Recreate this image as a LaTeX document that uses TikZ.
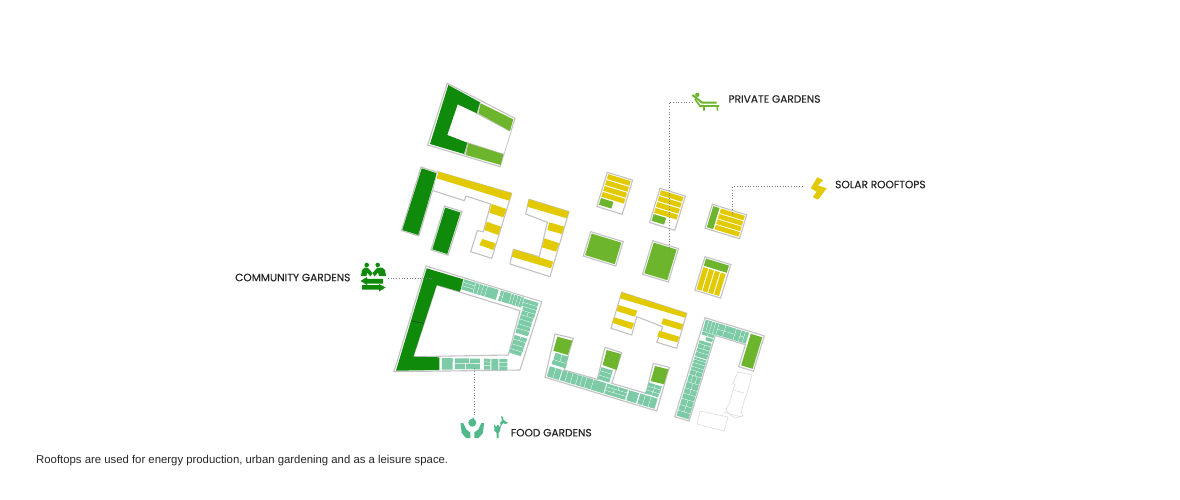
\documentclass[tikz,border=0pt]{standalone}
\usepackage{fontspec}
\setmainfont{Liberation Sans}
\newfontfamily\lblfont[FakeBold=0.3]{Poppins}
\usepackage{xcolor}
\usetikzlibrary{positioning}
\definecolor{darkgrn}{HTML}{0F8A0A}
\definecolor{lightgrn}{HTML}{6CB52D}
\definecolor{solaryel}{HTML}{E2C900}
\definecolor{foodtl}{HTML}{7CCBA6}
\definecolor{icontl}{HTML}{4FB98A}
\newcommand{\cells}[1]{\foreach \cx/\cy/\cw/\ch in {#1} \fill[food] (\cx,\cy) rectangle ++(\cw,\ch);}

\begin{document}
\begin{tikzpicture}[
  x=1pt, y=-1pt,
  outl/.style={draw=black!24, fill=white, line width=1.1pt, line join=miter},
  faint/.style={draw=black!12, line width=0.7pt},
  darkroof/.style={fill=darkgrn},
  lightroof/.style={fill=lightgrn},
  solar/.style={fill=solaryel},
  food/.style={fill=foodtl},
  leader/.style={draw=black!50, dotted, line width=0.7pt},
  lbl/.style={font=\lblfont\fontsize{10.6}{12}\selectfont, inner sep=0pt, text=black!85}
]
\fill[white] (0,0) rectangle (1180,500);
\useasboundingbox (0,0) rectangle (1180,500);

% top block
\draw[outl] (447.3,83.3) -- (515,118.3) -- (500,166.7) -- (427.7,145) -- cycle;
\fill[white] (457.7,104.3) -- (511,130) -- (504,153) -- (447.3,135) -- cycle;
\draw[black!24, line width=1.1pt] (476.7,113.3) -- (510,131) (467.3,142.7) -- (503.3,154.3)
  (480.4,102) -- (476.6,114) (468,142.7) -- (464.4,155);
\fill[darkroof] (448.3,85) -- (480,102.3) -- (476.7,113.3) -- (457.7,104.3) -- (447.3,135)
  -- (467.3,142.7) -- (464,154) -- (430,144) -- cycle;
\fill[lightroof] (480.7,103.3) -- (513.3,119.3) -- (510,131) -- (478.3,113.3) -- cycle;
\fill[lightroof] (468.3,143.3) -- (503.3,154.3) -- (500.7,165) -- (465.7,155) -- cycle;

% second row, left
\draw[outl] (421,167) -- (438,172.5) -- (418.8,236) -- (401.5,230.5) -- cycle;
\fill[darkroof] (421.7,168.3) -- (436.7,173.3) -- (418.3,235) -- (402.3,230) -- cycle;
\draw[outl] (444.5,206) -- (462,211.5) -- (448,255.2) -- (431,250) -- cycle;
\fill[darkroof] (445.2,207.6) -- (460.5,212.5) -- (447.3,254) -- (432.3,249.3) -- cycle;
\draw[outl] (437.3,171.7) -- (511.7,193.3) -- (491.7,258.3) -- (470.7,251.7) -- (477.3,230.7) -- (483.3,231.7)
  -- (490.7,204) -- (466,196) -- (464.3,200.7) -- (433.3,190.7);
\fill[solar] (438.3,171.7) -- (511.7,193.3) -- (509.3,200.7) -- (436.7,178.3) -- cycle;
\fill[solar] (491.7,204) -- (506.7,209) -- (503.3,217.3) -- (489.3,212.7) -- cycle;
\fill[solar] (486.7,221.7) -- (501,226.7) -- (498.3,235) -- (484.3,230) -- cycle;
\fill[solar] (482.3,239) -- (495.7,243.3) -- (493.3,250) -- (479.3,245) -- cycle;

\draw[outl] (529,199.3) -- (569,211.7) -- (550,276.7) -- (510,264) -- (513.3,249.3) -- (539.3,256.7)
  -- (547.3,222.3) -- (525.7,214) -- cycle;
\fill[solar] (529,199.3) -- (569,211.7) -- (566.7,218.3) -- (527.3,206.7) -- cycle;
\fill[solar] (549.3,222.3) -- (564.3,226.7) -- (561.7,234) -- (547.3,230) -- cycle;
\fill[solar] (544.3,238.3) -- (559.3,243.3) -- (556,251.7) -- (542,247.3) -- cycle;
\fill[solar] (514,249.3) -- (553.3,261.7) -- (551,268.3) -- (511.7,256.7) -- cycle;

% small roofs
\foreach \bx/\by in {607.3/172.3, 660/188.3} {
  \begin{scope}[shift={(\bx,\by)}, rotate=-17]
    \draw[outl] (0,0) rectangle (26.5,35.8);
    \foreach \k in {1.5,7.7,13.9,20.1} \fill[solar] (1.5,\k) rectangle (25,\k+5);
    \fill[lightroof] (1.5,26.5) rectangle (14.5,33.5);
  \end{scope}
}
\begin{scope}[shift={(712.3,204.3)}, rotate=-17]
  \draw[outl] (0,0) rectangle (36,25);
  \fill[lightroof] (1.5,1.5) rectangle (8,23.5);
  \foreach \k in {1.5,7.2,12.9,18.6} \fill[solar] (9.5,\k) rectangle (34.5,\k+4.7);
\end{scope}
\begin{scope}[shift={(590.7,231.7)}, rotate=-17]
  \draw[outl] (0,0) rectangle (34,25.5);
  \fill[lightroof] (1.5,1.5) rectangle (32.5,24);
\end{scope}
\begin{scope}[shift={(652.7,240.7)}, rotate=-17]
  \draw[outl] (0,0) rectangle (27,35);
  \fill[lightroof] (1.5,1.5) rectangle (25.5,33.5);
\end{scope}
\begin{scope}[shift={(705,256.7)}, rotate=-17]
  \draw[outl] (0,0) rectangle (27,35);
  \fill[lightroof] (1.5,1.5) rectangle (25.5,9);
  \foreach \k in {1.5,7.6,13.7,19.8} \fill[solar] (\k,10.5) rectangle (\k+5,33.5);
\end{scope}

% big courtyard block
\draw[outl] (426,266) -- (541.7,301.7) -- (520,370) -- (394,371.7) -- cycle;
\draw[outl] (436.7,285) -- (520,310.7) -- (508.3,355) -- (413.3,356.7) -- cycle;
\fill[darkroof] (426.7,268.3) -- (463.3,279.3) -- (460,291.7) -- (436.7,285) -- (413.3,356.7)
  -- (439.3,357.3) -- (439.3,370) -- (396,370.7) -- cycle;
\draw[black!70!darkgrn, line width=0.4pt] (411.7,321) -- (423.3,323.3);
\begin{scope}[shift={(426,266)}, rotate=-17]
  \fill[white] (103,1) rectangle (120,13);
  \cells{40.5/1.5/12/3, 40.5/5/12/3, 40.5/8.5/12/3.5, 53/1.5/3.5/10.5, 57/1.5/3.5/10.5, 61/1.5/3.5/10.5, 65/1.5/11.5/10.5,
    79/1.5/3/5, 79/7/3/5, 82.5/1.5/7.5/10.5, 90.5/1.5/2.5/10.5, 93.5/1.5/3/10.5, 97/1.5/3/10.5, 100.5/1.5/2.5/10.5,
    103.5/2.5/15/3.5, 103.5/6.5/15/3.5, 105/10.5/13.5/3.5, 105/14.5/6/4, 111.5/14.5/7/4, 105/19/13/4, 105/23.5/13/4.5,
    105/28.5/13/4, 105/33/13/4.5, 105/40/6/4, 111.5/40/6.5/4, 105/44.5/12.5/4.5, 105/49.5/12.5/4.5, 105/54.5/12/4}
\end{scope}
\begin{scope}[shift={(441,357.3)}, rotate=-0.8]
  \cells{1/0.8/10.8/11.4, 14/0.8/14/4.5, 29/0.8/10/4.5, 14/6/10/5.5, 25/6/14/5.5,
    43/0.8/6.5/3, 43/4.3/6.5/3.2, 43/8/6.5/3.7, 50.5/0.8/7/11, 58.5/0.8/8/3.3, 58.5/4.6/8/3.2, 58.5/8.3/8/3.5}
\end{scope}

% yellow block
\draw[outl] (621.7,292.3) -- (686.7,313.3) -- (676.7,348.3) -- (656.7,342.3) -- (662.7,326.7) -- (636.7,316.7)
  -- (631.7,335) -- (611,328.3) -- cycle;
\fill[solar] (621.7,292.3) -- (686.7,313.3) -- (685,317.7) -- (620,298.3) -- cycle;
\fill[solar] (618.3,305) -- (637.3,310.7) -- (635,316.7) -- (616.7,311) -- cycle;
\fill[solar] (614,317.3) -- (634,323.3) -- (631.7,329.3) -- (612.3,322.7) -- cycle;
\fill[solar] (663.3,318.3) -- (683.3,324.3) -- (681,330) -- (661.3,324) -- cycle;
\fill[solar] (659.3,330.7) -- (679.3,336.7) -- (677.3,342.3) -- (657.3,336.7) -- cycle;

% U block
\draw[outl] (555,334) -- (573.3,338.3) -- (564,370) -- (597.3,379.3) -- (605,347.3) -- (621.7,352.7) -- (611.7,383.3)
  -- (646,393.3) -- (653.3,363.3) -- (669.3,367.3) -- (656.7,411) -- (545,377.3) -- cycle;
\fill[lightroof] (557.3,336.7) -- (572.3,340.7) -- (567.7,355) -- (553.3,350.7) -- cycle;
\fill[lightroof] (606.7,350) -- (621,354) -- (616.7,370) -- (602.7,365) -- cycle;
\fill[lightroof] (655,366) -- (668.3,369.3) -- (664,384.3) -- (650.7,381) -- cycle;
\begin{scope}[shift={(545,377.3)}, rotate=-16.8]
  \cells{1.5/-12/6/10.5, 8/-12/6/10.5, 15/-12/5/10.5, 20.5/-12/5/10.5, 26/-12/5/10.5, 31.5/-12/4/10.5, 36/-12/4/10.5,
    40.5/-12/6.5/10.5, 47.5/-12/13/10.5, 61.5/-12/12/3, 74/-12/9/3, 61.5/-8.5/8/3.2, 70/-8.5/13/3.2, 61.5/-4.8/21.5/3.3,
    84.5/-12/10/10.5, 96/-12/5/10.5, 101.5/-12/5.5/10.5, 107.5/-12/6.5/10.5,
    3/-26.5/6.5/7, 10/-26.5/6.5/7, 2.5/-19/14.5/4.5,
    51/-26/12/3.5, 51/-22/12/4, 51/-17.5/12/4,
    101/-25/6.5/3.5, 108/-25/6.5/3.5, 101/-21/6.5/3.5, 108/-21/6.5/3.5, 100.5/-17/6.5/3.5, 107.5/-17/6.5/3.5}
\end{scope}

% L block with its faint neighbours
\begin{scope}[shift={(705,317.7)}, rotate=-17]
  \draw[outl] (0,0) -- (62,0) -- (62,37) -- (46.5,37) -- (46.5,14) -- (15,14) -- (15,103.5) -- (0,103.5) -- cycle;
  \fill[lightroof] (48.5,2) rectangle (60.5,35);
  \cells{1.5/1.5/3/12, 5/1.5/3/12, 8.5/1.5/3/12, 12/1.5/3/12, 15.5/1.5/6.5/5.5, 15.5/7.5/6.5/5.5, 22.5/1.5/10.5/5.5, 22.5/7.5/10.5/5.5,
    33.5/1.5/5/11.5, 39/1.5/3.5/5.5, 39/7.5/3.5/5.5, 43/1.5/3.5/11.5,
    1.5/14/6/3, 8/14/6/3, 7/18/7/3.5, 1.5/23/12.5/3, 1.5/26.5/6/4, 8/26.5/6/4, 1.5/31/12.5/3.5, 1.5/35/12.5/4.5,
    1.5/40.5/12.5/2, 1.5/43/12.5/3, 1.5/46.5/12.5/3.5, 1.5/50.5/12.5/3, 1.5/54/6/4.5, 8/54/6/4.5, 1.5/59/3.5/7, 5.5/59/4/7, 10/59/4/7,
    1.5/66.5/6/6, 8/66.5/6/6, 1.5/73/6/5, 8/73/6/5, 1.5/78.5/12.5/5, 1.5/84/6/6, 8/84/6/6, 1.5/90.5/6/5.5, 8/90.5/6/5.5, 1.5/96.5/12.5/5.5}
\end{scope}
\draw[faint] (738,372) -- (752,375) -- (747,393) -- (745,398) -- (741,412) -- (743,416) -- (735,418) -- (728,413) -- (726,409)
  -- (729,404) -- (733,390) -- (735,385) -- (733,383) -- cycle;
\draw[faint] (744,393) -- (733,390) (724,412) -- (741,417);
\draw[faint] (700,411) -- (728,417) -- (724,431) -- (697,424) -- cycle;

% labels, icons and leaders
\coordinate (communityicon) at (388,278);
\coordinate (communityroof) at (433,278);
\coordinate (privateicon) at (693,102.7);
\coordinate (privateroof) at (669,250);
\coordinate (solaricon) at (804,186.7);
\coordinate (solarroof) at (732.7,215);
\coordinate (foodicon) at (474,415);
\coordinate (foodroof) at (474,367);

\node[lbl, anchor=west] (privatelbl) at (728.3,99) {PRIVATE GARDENS};
\node[lbl, anchor=west] (solarlbl) at (835,184.5) {SOLAR ROOFTOPS};
\node[lbl, anchor=west] (communitylbl) at (235,277.5) {COMMUNITY GARDENS};
\node[lbl, anchor=west] (foodlbl) at (510.7,432.7) {FOOD GARDENS};
\node[inner sep=0pt, anchor=west, font=\fontsize{11.35}{13}\selectfont, text=black!85] (caption) at (36,461) {Rooftops are used for energy production, urban gardening and as a leisure space.};

\draw[leader] (privateroof) |- (privateicon);
\draw[leader] (solarroof) |- (solaricon);
\draw[leader] (communityicon) -- (communityroof);
\draw[leader] (foodicon) -- (foodroof);

% lounger
\fill[lightgrn] (697.3,94.8) circle (2.2);
\draw[lightgrn, line width=2pt] (692.3,95) -- (702.3,102.7) -- (716.7,102.7);
\draw[lightgrn, line width=1.6pt] (695,99.3) -- (700,106) -- (719,106) (704,106) -- (704,110.7) (717.3,106) -- (717.3,110.7);
% bolt
\fill[solaryel] (817.3,177.3) -- (823,180) -- (818,185.5) -- (826.7,188.3) -- (818.3,199.5) -- (812.8,197.3)
  -- (816.7,191.7) -- (810.7,188.3) -- cycle;
% handshake
\fill[darkgrn] (366.7,265) circle (2.3) (377.7,265) circle (2.3);
\fill[darkgrn] (361,276) -- (362,270) -- (365,267.5) -- (368,268) -- (372.5,273) -- (370.5,276.5) -- (367,272.5) -- (366.5,276) -- cycle;
\fill[darkgrn] (386,276) -- (385,270) -- (382,267.5) -- (377,268) -- (372.5,273) -- (374.5,276.5) -- (378,272.5) -- (379,276) -- cycle;
\fill[darkgrn] (360.5,281) -- (367,277) -- (367,278.8) -- (383,278.8) -- (383,283.5) -- (367,283.5) -- (367,285) -- cycle;
\fill[darkgrn] (385.5,287.5) -- (379,284) -- (379,285) -- (362,285) -- (362,289.5) -- (379,289.5) -- (379,291.5) -- cycle;
% hands and flowers
\fill[icontl] (472.3,422.7) circle (4);
\fill[icontl] (472.3,417.5) -- (474.5,418) -- (473,419.5) -- cycle;
\fill[icontl] (460.5,423) -- (463.2,423) -- (466.3,429.5) -- (470.3,432.5) -- (470.3,438) -- (466,438) -- (461.7,433) -- cycle;
\fill[icontl] (484.1,423) -- (481.4,423) -- (478.3,429.5) -- (474.3,432.5) -- (474.3,438) -- (478.6,438) -- (482.9,433) -- cycle;
\fill[icontl] (494,424) -- (496,427) -- (498,424.5) -- (499.5,427) -- (501,425) -- (500,431) -- (498.5,433) -- (498.5,438) -- (496.5,438) -- (496.5,433) -- (494.5,431) -- cycle;
\fill[icontl] (501,416) -- (503,417) -- (503.5,420) -- (508,423) -- (505.5,424) -- (503,423) -- (501,426) -- (500,423) -- (502,420.5) -- cycle;
\end{tikzpicture}
\end{document}
